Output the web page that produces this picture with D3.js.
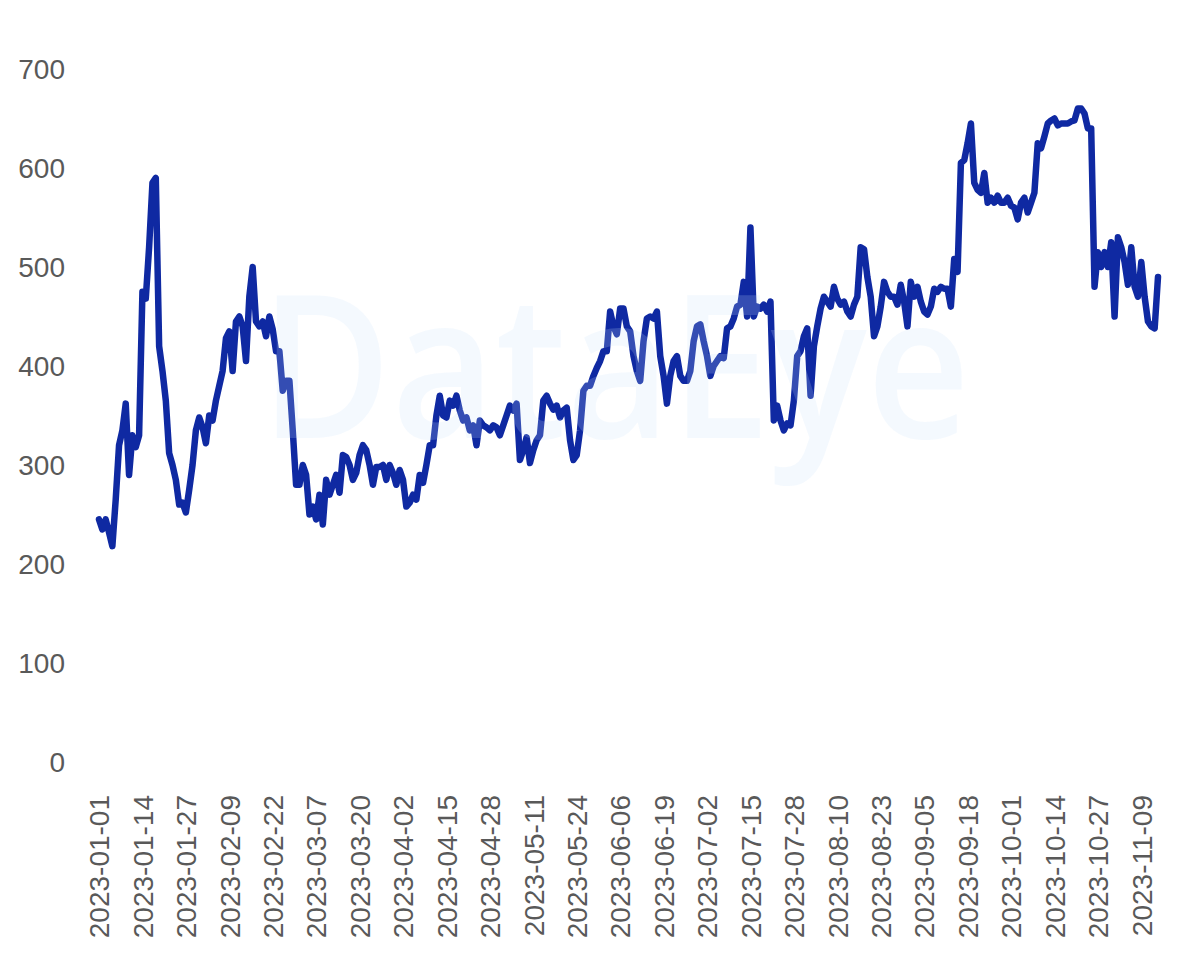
<!DOCTYPE html>
<html lang="en">
<head>
<meta charset="utf-8">
<script src="https://d3js.org/d3.v7.min.js"></script>
<style>
  body { margin: 0; background: #ffffff; }
  svg { display: block; }
  .axis text { font-family: "Liberation Sans", Arial, sans-serif; font-size: 28px; fill: #595959; }
</style>
</head>
<body>
<svg width="1195" height="970"></svg>
<script>
  // daily values, from 2023-01-01 on
  const startDate = "2023-01-01"
  const values = [
    245, 235, 245, 232, 218, 265, 320, 335, 362, 290, 330, 318, 330, 475, 468, 520, 585, 590, 420, 395,
    365, 312, 300, 285, 260, 262, 252, 275, 300, 335, 348, 338, 322, 350, 345, 365, 380, 395, 428, 435,
    395, 445, 450, 440, 405, 470, 500, 445, 440, 445, 430, 450, 437, 415, 415, 375, 385, 385, 335, 280,
    280, 300, 290, 250, 258, 245, 270, 240, 285, 270, 280, 290, 272, 310, 308, 300, 285, 292, 310, 320,
    315, 300, 280, 298, 298, 300, 285, 300, 292, 280, 295, 285, 258, 262, 270, 265, 290, 282, 300, 320,
    320, 350, 370, 350, 348, 365, 360, 370, 355, 345, 348, 335, 340, 320, 345, 340, 338, 335, 340, 338,
    330, 340, 350, 360, 355, 362, 305, 315, 328, 302, 315, 325, 330, 365, 370, 362, 356, 360, 348, 355,
    358, 325, 305, 310, 335, 375, 380, 380, 390, 398, 405, 415, 415, 455, 440, 432, 458, 458, 440, 435,
    410, 395, 385, 425, 448, 450, 448, 455, 410, 390, 362, 390, 405, 410, 390, 385, 385, 395, 425, 440,
    442, 425, 410, 390, 400, 405, 410, 408, 438, 440, 448, 460, 462, 485, 450, 540, 450, 460, 458, 462,
    455, 465, 345, 360, 345, 335, 342, 340, 365, 410, 415, 430, 438, 370, 420, 440, 458, 470, 465, 460,
    480, 468, 462, 465, 455, 450, 462, 470, 520, 518, 490, 470, 430, 440, 460, 485, 475, 470, 470, 462,
    482, 465, 440, 485, 470, 480, 465, 455, 452, 460, 478, 475, 480, 478, 478, 460, 508, 495, 605, 608,
    625, 645, 585, 578, 575, 595, 565, 570, 565, 572, 565, 565, 570, 562, 560, 548, 565, 570, 555, 565,
    575, 625, 620, 632, 645, 648, 650, 643, 645, 645, 645, 647, 648, 660, 660, 655, 640, 640, 480, 515,
    500, 515, 500, 525, 450, 530, 520, 505, 482, 520, 480, 470, 505, 470, 445, 440, 438, 490
  ]
  const yTicks = [0, 100, 200, 300, 400, 500, 600, 700]
  const tickEvery = 13   // one date label every 13 days
  const watermark = "DataEye"

  const parse = d3.timeParse("%Y-%m-%d")
  const fmt = d3.timeFormat("%Y-%m-%d")
  const t0 = parse(startDate)
  const data = values.map((v, i) => ({ date: d3.timeDay.offset(t0, i), value: v }))

  const svg = d3.select("svg")
  const margin = { left: 99, right: 1195 - 1158, top: 69, bottom: 970 - 762 }

  const x = d3.scaleTime()
    .domain([t0, d3.timeDay.offset(t0, 317)])
    .range([margin.left, 1195 - margin.right])
  const y = d3.scaleLinear()
    .domain([0, 700])
    .range([970 - margin.bottom, margin.top])

  // y axis, labels only
  const yAxis = svg.append("g")
    .attr("class", "axis")
    .attr("transform", "translate(65,0)")
    .call(d3.axisLeft(y).tickValues(yTicks).tickSize(0).tickPadding(0))
  yAxis.select(".domain").remove()
  yAxis.selectAll("text").attr("dy", "0.35em")

  // x axis, rotated date labels
  const xTickDates = d3.range(0, values.length, tickEvery).map(i => d3.timeDay.offset(t0, i))
  const xAxis = svg.append("g")
    .attr("class", "axis")
    .attr("transform", "translate(0," + (970 - margin.bottom) + ")")
    .call(d3.axisBottom(x).tickValues(xTickDates).tickFormat(fmt).tickSize(0))
  xAxis.select(".domain").remove()
  xAxis.selectAll("text")
    .attr("transform", "rotate(-90)")
    .attr("text-anchor", "end")
    .attr("x", -33)
    .attr("y", 0)
    .attr("dy", "0.35em")

  const line = d3.line()
    .x(d => x(d.date))
    .y(d => y(d.value))

  svg.append("path")
    .datum(data)
    .attr("fill", "none")
    .attr("stroke", "#0f29a2")
    .attr("stroke-width", 6.5)
    .attr("stroke-linejoin", "round")
    .attr("stroke-linecap", "round")
    .attr("d", line)

  // faint watermark on top of the line
  svg.append("text")
    .attr("x", 615)
    .attr("y", 438)
    .attr("text-anchor", "middle")
    .attr("textLength", 710)
    .attr("lengthAdjust", "spacingAndGlyphs")
    .style("font-family", "'Open Sans', 'Liberation Sans', sans-serif")
    .style("font-weight", 600)
    .style("font-size", "200px")
    .style("fill", "rgb(200,225,250)")
    .style("fill-opacity", 0.2)
    .text(watermark)
</script>
</body>
</html>
